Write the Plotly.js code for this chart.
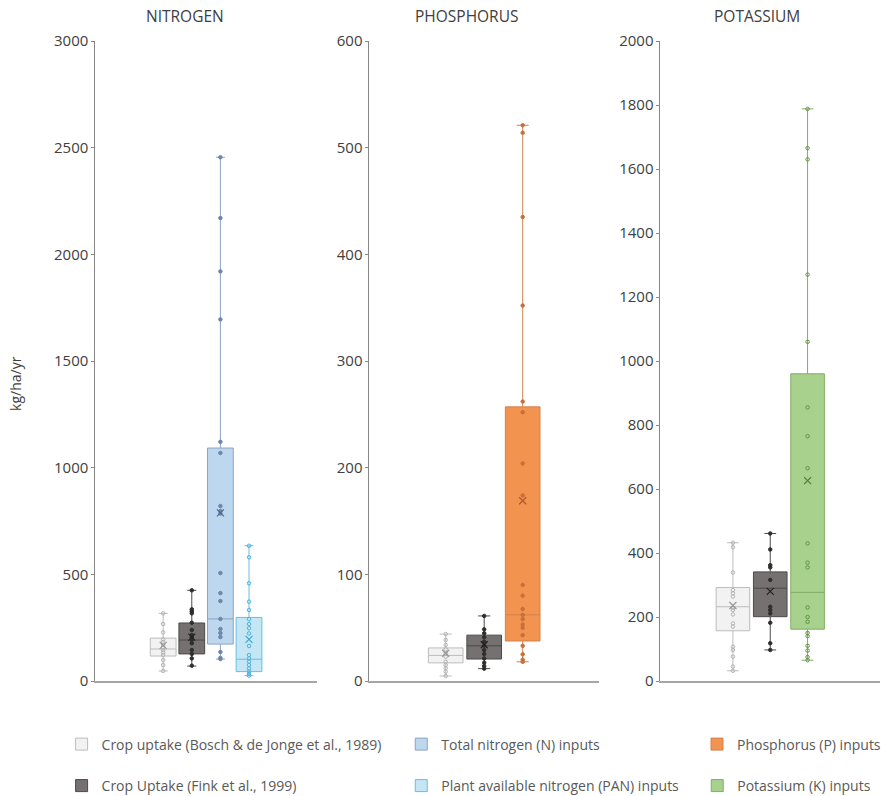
<!DOCTYPE html>
<html>
<head>
<meta charset="utf-8">
<script src="https://cdn.plot.ly/plotly-3.0.1.min.js"></script>
<style>html,body{margin:0;padding:0;background:#fff;overflow:hidden;width:886px;height:796px}</style>
</head>
<body>
<div id="chart" style="width:886px;height:802px"></div>
<script>
// ---------- DATA ----------
const panelTitles = ['NITROGEN', 'PHOSPHORUS', 'POTASSIUM'];
const yAxisTitle = 'kg/ha/yr';
const seriesNames = {
  bosch: 'Crop uptake (Bosch & de Jonge et al., 1989)',
  fink: 'Crop Uptake (Fink et al., 1999)',
  totalN: 'Total nitrogen (N) inputs',
  pan: 'Plant available nitrogen (PAN) inputs',
  phos: 'Phosphorus (P) inputs',
  pot: 'Potassium (K) inputs'
};
const nCategories = ['bosch', 'fink', 'totalN', 'pan'];
const pCategories = ['bosch', 'fink', 'phos'];
const kCategories = ['bosch', 'fink', 'pot'];

// box stats: [q1, median, q3, lowerWhisker, upperWhisker, mean]
const nBoschBox  = [117, 150, 201, 47, 317, 167];
const nFinkBox   = [127, 192, 272, 70, 425, 206];
const nTotalBox  = [173, 291, 1092, 103, 2455, 788];
const nPanBox    = [44, 102, 298, 25, 634, 195];
const pBoschBox  = [17, 24, 31, 4.7, 44, 26];
const pFinkBox   = [20.6, 33, 43, 11.6, 61, 34];
const pPhosBox   = [37.5, 62, 257, 18, 521, 169];
const kBoschBox  = [157, 232, 292, 32, 432, 236];
const kFinkBox   = [201, 290, 341, 97, 461, 280];
const kPotBox    = [162, 277, 960, 65, 1788, 626];

// individual observations
const nBoschPts = [317, 267, 228, 195, 183, 169, 158, 145, 134, 122, 98, 75, 47];
const nFinkPts  = [425, 336, 327, 317, 273, 239, 216, 205, 192, 177, 145, 127, 106, 72];
const nTotalPts = [2455, 2170, 1920, 1695, 1121, 1069, 820, 797, 785, 506, 412, 375, 291, 244, 225, 206, 136, 108, 103];
const nPanPts   = [634, 580, 458, 372, 333, 290, 267, 247, 223, 164, 122, 106, 91, 75, 59, 44, 33, 25];
const pBoschPts = [44, 38.4, 33.8, 29.7, 26, 22.8, 18.1, 15, 11.9, 8.7, 4.7];
const pFinkPts  = [61, 48.4, 44.7, 41, 36.9, 33.1, 29, 25.3, 21.2, 17.2, 14.1, 11.6];
const pPhosPts  = [521, 514, 435, 352, 262, 252, 204, 174, 90, 80, 67.5, 62, 58, 53, 50, 43, 33, 25, 20, 18];
const kBoschPts = [432, 418, 339, 284, 274, 264, 229, 222, 208, 180, 170, 107, 97, 76, 45, 32];
const kFinkPts  = [461, 411, 362, 355, 316, 232, 222, 211, 182, 118, 97];
const kPotPts   = [1788, 1665, 1630, 1270, 1060, 855, 765, 665, 430, 370, 355, 230, 200, 185, 150, 140, 110, 95, 75, 65];

// ---------- STYLES ----------
const styles = {
  bosch:  {fill: '#f2f2f2', line: '#bcbcbc', pt: '#b3b3b3', sym: 'circle-open', mean: '#999999', legend: 'legend'},
  fink:   {fill: '#767171', line: '#4d4949', pt: '#302d2d', sym: 'circle',      mean: '#222222', legend: 'legend2'},
  totalN: {fill: '#bdd7ee', line: '#8ea3c0', pt: '#6b87ad', sym: 'circle',      mean: '#4f6a90', legend: 'legend3'},
  pan:    {fill: '#c4e6f5', line: '#66bfe2', pt: '#4fb3dc', sym: 'circle-open', mean: '#3aa6d2', legend: 'legend4'},
  phos:   {fill: '#f2934f', line: '#cf8350', pt: '#c8703a', sym: 'circle',      mean: '#a85a2a', legend: 'legend5'},
  pot:    {fill: '#a9d18e', line: '#82ab68', pt: '#5f9445', sym: 'circle-open', mean: '#4f7d38', legend: 'legend6'}
};

const traces = [];
const shown = {};
function addSeries(key, box, pts, xa, ya) {
  const s = styles[key];
  traces.push({
    type: 'box', name: seriesNames[key], x: [key], xaxis: xa, yaxis: ya,
    q1: [box[0]], median: [box[1]], q3: [box[2]], lowerfence: [box[3]], upperfence: [box[4]],
    fillcolor: s.fill, line: {color: s.line, width: 1}, whiskerwidth: 0.35, width: 0.9,
    boxpoints: false, hoverinfo: 'skip',
    legend: s.legend, legendgroup: key, showlegend: !shown[key]
  });
  shown[key] = true;
  traces.push({
    type: 'scatter', mode: 'markers', x: pts.map(() => key), y: pts, xaxis: xa, yaxis: ya,
    marker: {symbol: s.sym, size: 3.5, color: s.pt, line: {color: s.pt, width: 1}},
    showlegend: false, hoverinfo: 'skip'
  });
  traces.push({
    type: 'scatter', mode: 'markers', x: [key], y: [box[5]], xaxis: xa, yaxis: ya,
    marker: {symbol: 'x-thin-open', size: 7, color: s.mean, line: {color: s.mean, width: 1.2}},
    showlegend: false, hoverinfo: 'skip'
  });
}
addSeries('bosch', nBoschBox, nBoschPts, 'x', 'y');
addSeries('fink', nFinkBox, nFinkPts, 'x', 'y');
addSeries('totalN', nTotalBox, nTotalPts, 'x', 'y');
addSeries('pan', nPanBox, nPanPts, 'x', 'y');
addSeries('bosch', pBoschBox, pBoschPts, 'x2', 'y2');
addSeries('fink', pFinkBox, pFinkPts, 'x2', 'y2');
addSeries('phos', pPhosBox, pPhosPts, 'x2', 'y2');
addSeries('bosch', kBoschBox, kBoschPts, 'x3', 'y3');
addSeries('fink', kFinkBox, kFinkPts, 'x3', 'y3');
addSeries('pot', kPotBox, kPotPts, 'x3', 'y3');

// ---------- LAYOUT ----------
// figure is drawn 6px taller than the window so the bottom legend row sits low enough;
// the extra strip is only empty legend padding and is clipped by the viewport.
const W = 886, H = 802;
const font = 'Open Sans, Noto Sans, sans-serif';
const yDom = [(H - 681) / H, (H - 41) / H];
function xAxis(dom, cats, range) {
  return {domain: dom, type: 'category', categoryarray: cats, range: range,
    showticklabels: false, ticks: '', showgrid: false, zeroline: false,
    showline: true, linecolor: '#a6a6a6', linewidth: 1.5, fixedrange: true};
}
function yAxis(anchor, range, dtick) {
  return {domain: yDom, anchor: anchor, range: range, dtick: dtick, tick0: 0,
    showgrid: false, zeroline: false, showline: true, linecolor: '#868686', linewidth: 1,
    ticks: 'outside', ticklen: 3, tickcolor: '#868686',
    tickfont: {family: font, size: 15, color: '#404040'}, fixedrange: true};
}
const legendBase = {orientation: 'v', xanchor: 'left',
  font: {family: font, size: 14, color: '#595959'},
  bgcolor: 'rgba(0,0,0,0)', itemclick: false, itemdoubleclick: false};
function leg(xpx, row) {
  return Object.assign({}, legendBase, row === 1
    ? {x: xpx / W, y: 1 - 728.5 / H, yanchor: 'top'}
    : {x: xpx / W, y: 0, yanchor: 'bottom'});
}

const layout = {
  width: W, height: H, margin: {l: 0, r: 0, t: 0, b: 0},
  paper_bgcolor: '#ffffff', plot_bgcolor: '#ffffff',
  boxmode: 'overlay',
  xaxis:  xAxis([96 / W, 319 / W], nCategories, [-2.37, 5.37]),
  xaxis2: xAxis([372 / W, 603 / W], pCategories, [-1.98, 3.98]),
  xaxis3: xAxis([665 / W, 1], kCategories, [-1.94, 3.94]),
  yaxis:  yAxis('x', [0, 3000], 500),
  yaxis2: yAxis('x2', [0, 600], 100),
  yaxis3: yAxis('x3', [0, 2000], 200),
  legend:  leg(62, 1),
  legend2: leg(62, 2),
  legend3: leg(404, 1),
  legend4: leg(404, 2),
  legend5: leg(702, 1),
  legend6: leg(702, 2),
  annotations: [
    {text: panelTitles[0], x: 186 / W, y: 1 - 16 / H, xref: 'paper', yref: 'paper', showarrow: false,
     font: {family: font, size: 15.5, color: '#404040'}, xanchor: 'center', yanchor: 'middle'},
    {text: panelTitles[1], x: 470 / W, y: 1 - 16 / H, xref: 'paper', yref: 'paper', showarrow: false,
     font: {family: font, size: 15.5, color: '#404040'}, xanchor: 'center', yanchor: 'middle'},
    {text: panelTitles[2], x: 762 / W, y: 1 - 16 / H, xref: 'paper', yref: 'paper', showarrow: false,
     font: {family: font, size: 15.5, color: '#404040'}, xanchor: 'center', yanchor: 'middle'},
    {text: yAxisTitle, x: 16 / W, y: 1 - 383 / H, xref: 'paper', yref: 'paper', showarrow: false, textangle: -90,
     font: {family: font, size: 14, color: '#404040'}, xanchor: 'center', yanchor: 'middle'}
  ]
};

Plotly.newPlot('chart', traces, layout, {displayModeBar: false, staticPlot: true});
</script>
</body>
</html>
